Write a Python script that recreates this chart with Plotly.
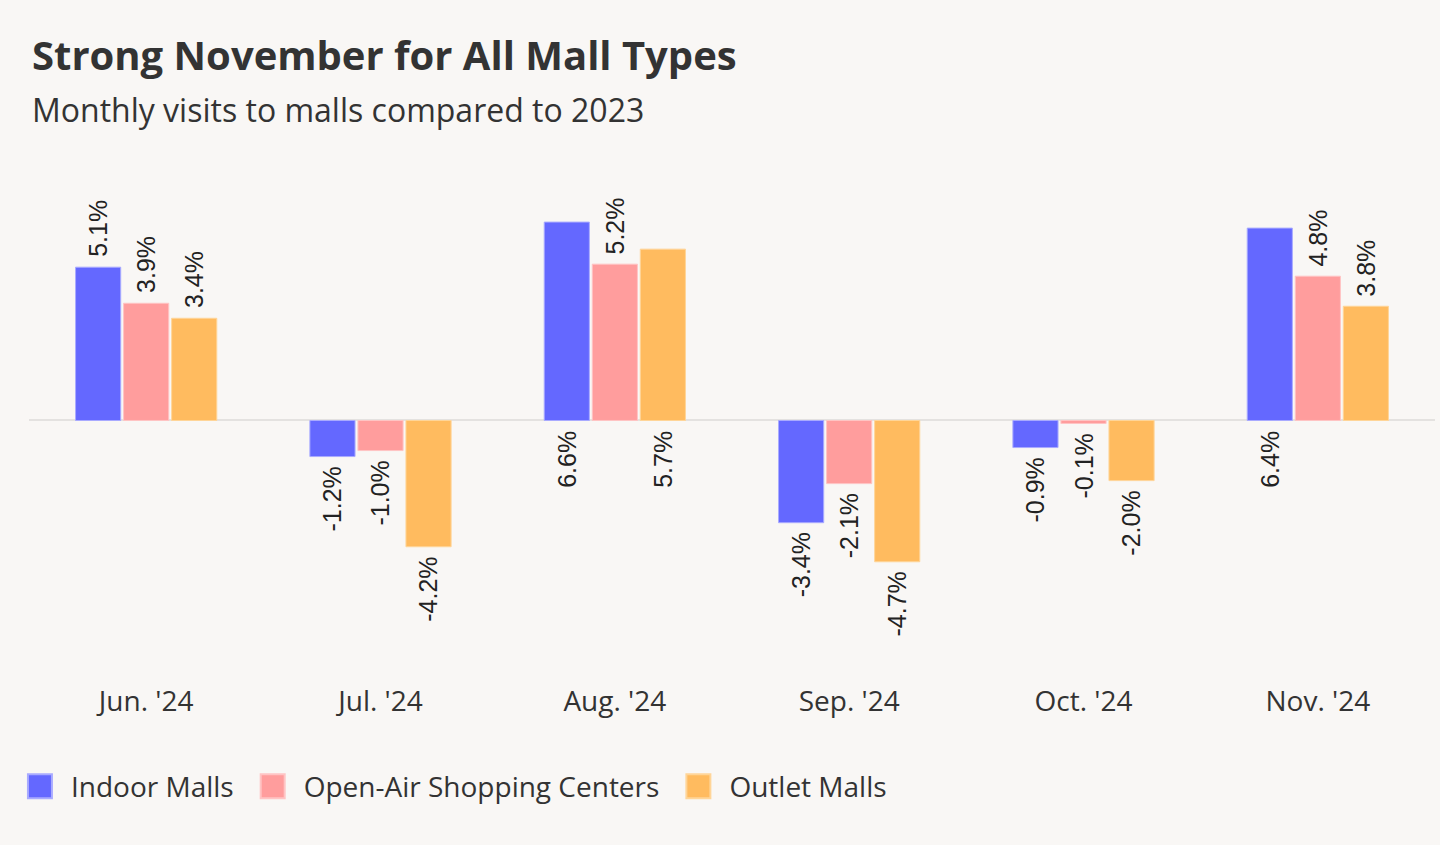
import plotly.graph_objects as go

months = ["Jun. '24", "Jul. '24", "Aug. '24", "Sep. '24", "Oct. '24", "Nov. '24"]
series_names = ["Indoor Malls", "Open-Air Shopping Centers", "Outlet Malls"]
indoor = [5.1, -1.2, 6.6, -3.4, -0.9, 6.4]
open_air = [3.9, -1.0, 5.2, -2.1, -0.1, 4.8]
outlet = [3.4, -4.2, 5.7, -4.7, -2.0, 3.8]
colors = ["#6468ff", "#ff9d9d", "#ffbb5f"]
line_colors = ["#a9abff", "#ffc4c4", "#ffd598"]

title_text = "Strong November for All Mall Types"
subtitle_text = "Monthly visits to malls compared to 2023"

series = [indoor, open_air, outlet]

BG = "#f9f7f5"
BARGAP = 0.385
GROUPGAP = 0.06
YMAX = 8.0
YMIN = -8.3
LABEL_FONT = dict(family="Liberation Sans, Arial", size=25, color="#222")

fig = go.Figure()
for name, vals, c, lc in zip(series_names, series, colors, line_colors):
    fig.add_trace(go.Bar(
        x=months, y=vals, name=name,
        marker=dict(color=c, line=dict(color=lc, width=1)),
        hoverinfo="x+y+name",
    ))

# value labels (rotated); labels that would overflow the top are drawn below the zero line
n = len(series)
slot = (1 - BARGAP) / n
annotations = []
for k, vals in enumerate(series):
    for i, v in enumerate(vals):
        xpos = i + (k - (n - 1) / 2) * slot
        txt = f"{v:.1f}%"
        if v > 5.5:
            y, anchor, shift = 0, "top", -8
        elif v >= 0:
            y, anchor, shift = v, "bottom", 8
        else:
            y, anchor, shift = v, "top", -8
        annotations.append(dict(x=xpos, y=y, xref="x", yref="y", text=txt,
                                textangle=-90, showarrow=False, yanchor=anchor,
                                xanchor="center", yshift=shift, font=LABEL_FONT))

annotations.append(dict(text=f"<b>{title_text}</b>", xref="paper", yref="paper",
                        x=0.0006, y=1.257, xanchor="left", yanchor="middle",
                        showarrow=False, font=dict(family="Open Sans", size=40, color="#333")))
annotations.append(dict(text=subtitle_text, xref="paper", yref="paper",
                        x=0.0006, y=1.143, xanchor="left", yanchor="middle",
                        showarrow=False, font=dict(family="Open Sans", size=32, color="#333")))

fig.update_layout(
    width=1440, height=845,
    paper_bgcolor=BG, plot_bgcolor=BG,
    margin=dict(l=29, r=5, t=180, b=175),
    barmode="group", bargap=BARGAP, bargroupgap=GROUPGAP,
    font=dict(family="Open Sans", color="#333"),
    xaxis=dict(showgrid=False, showline=False, tickfont=dict(size=28, color="#333"),
               ticks="outside", ticklen=6, tickcolor="rgba(0,0,0,0)"),
    yaxis=dict(range=[YMIN, YMAX], showgrid=False, showticklabels=False,
               zeroline=True, zerolinecolor="#e4e2e0", zerolinewidth=2),
    legend=dict(orientation="h", x=-0.0164, xanchor="left", y=-0.238, yanchor="middle",
                itemwidth=55, font=dict(size=28, color="#333"), bgcolor="rgba(0,0,0,0)"),
    annotations=annotations,
    showlegend=True,
)

post = """
document.body.style.margin = '0';
document.body.style.background = '%s';
var gd = document.getElementById('{plot_id}');
function enlargeLegend() {
  var ps = gd.querySelectorAll('.legendpoints path');
  ps.forEach(function(p) {
    var t = p.getAttribute('transform') || '';
    if (t.indexOf('scale') < 0) { p.setAttribute('transform', t + ' translate(1.5,0) scale(2)'); }
  });
}
enlargeLegend();
if (gd.on) { gd.on('plotly_afterplot', enlargeLegend); }
setTimeout(enlargeLegend, 50);
""" % BG

fig.write_html("out.html", post_script=post, config={"displayModeBar": False})
